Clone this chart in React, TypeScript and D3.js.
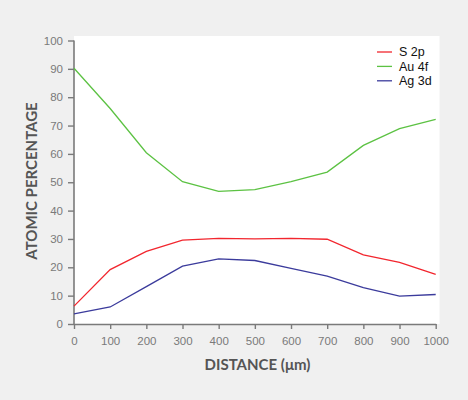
import React, { useEffect, useRef } from 'react';
import * as d3 from 'd3';

const distances = [0, 100, 200, 300, 400, 500, 600, 700, 800, 900, 1000];
const s2p = [6.3, 19.2, 25.6, 29.6, 30.2, 30.0, 30.2, 29.9, 24.4, 21.7, 17.5];
const au4f = [90.2, 76.0, 60.4, 50.2, 46.8, 47.4, 50.2, 53.6, 63.0, 68.9, 72.2];
const ag3d = [3.6, 6.0, 13.2, 20.4, 23.0, 22.4, 19.6, 16.9, 12.8, 9.8, 10.4];
const seriesNames = ['S 2p', 'Au 4f', 'Ag 3d'];
const seriesColors = ['#f2262e', '#5cc243', '#3b3b9c'];
const yTicks = [0, 10, 20, 30, 40, 50, 60, 70, 80, 90, 100];

const W = 468;
const H = 400;

export default function App() {
  const ref = useRef<SVGSVGElement | null>(null);

  useEffect(() => {
    const svg = d3.select(ref.current);
    svg.selectAll('*').remove();

    const m = { t: 36, r: 29, b: 76, l: 74 };
    const x = d3.scaleLinear().domain([0, 1000]).range([m.l, 435.7]);
    const y = d3.scaleLinear().domain([0, 100]).range([324, 40.5]);

    svg.append('rect').attr('width', W).attr('height', H).attr('fill', '#f0f0f0');
    svg
      .append('rect')
      .attr('x', m.l)
      .attr('y', m.t)
      .attr('width', 439.5 - m.l)
      .attr('height', 324 - m.t)
      .attr('fill', '#fff');

    const axisColor = '#7a7a7a';
    const gy = svg
      .append('g')
      .attr('transform', `translate(${m.l},0)`)
      .call(d3.axisLeft(y).tickValues(yTicks).tickFormat(d3.format('d')).tickSize(6).tickPadding(5).tickSizeOuter(0));
    gy.select('.domain').attr('d', `M0,${y(100)}V${y(0)}`);

    const gx = svg
      .append('g')
      .attr('transform', `translate(0,${y(0)})`)
      .call(d3.axisBottom(x).tickValues(distances).tickFormat(d3.format('d')).tickSize(5).tickPadding(8).tickSizeOuter(0));

    [gx, gy].forEach((g) => {
      g.selectAll('.domain').attr('stroke', axisColor).attr('stroke-width', 1.6);
      g.selectAll('.tick line').attr('stroke', axisColor).attr('stroke-width', 1.4);
      g.selectAll('text')
        .attr('fill', '#7a7a7a')
        .attr('font-size', 11.5)
        .attr('font-family', 'Liberation Sans, Arial, sans-serif');
    });

    const all = [s2p, au4f, ag3d];
    const line = d3
      .line<number>()
      .x((_, i) => x(distances[i]))
      .y((d) => y(d));

    all.forEach((vals, k) => {
      svg
        .append('path')
        .datum(vals)
        .attr('d', line)
        .attr('fill', 'none')
        .attr('stroke', seriesColors[k])
        .attr('stroke-width', 1.3);
    });

    const lg = svg.append('g').attr('transform', 'translate(377,52)');
    seriesNames.forEach((name, k) => {
      const row = lg.append('g').attr('transform', `translate(0,${k * 14.4})`);
      row
        .append('line')
        .attr('x1', 0)
        .attr('x2', 15)
        .attr('stroke', seriesColors[k])
        .attr('stroke-width', 1.3);
      row
        .append('text')
        .attr('x', 22)
        .attr('dy', '0.35em')
        .attr('font-size', 12.5)
        .attr('font-family', 'Liberation Sans, Arial, sans-serif')
        .attr('fill', '#111')
        .text(name);
    });

    svg
      .append('text')
      .attr('transform', `translate(37,${181}) rotate(-90)`)
      .attr('text-anchor', 'middle')
      .attr('font-size', 15)
      .attr('font-weight', 'bold')
      .attr('font-family', 'Lato, sans-serif')
      .attr('fill', '#555')
      .text('ATOMIC PERCENTAGE');

    svg
      .append('text')
      .attr('x', 257.5)
      .attr('y', 370)
      .attr('text-anchor', 'middle')
      .attr('font-size', 15)
      .attr('font-weight', 'bold')
      .attr('font-family', 'Lato, sans-serif')
      .attr('fill', '#555')
      .text('DISTANCE (μm)');
  }, []);

  return (
    <svg
      ref={ref}
      width={W}
      height={H}
      style={{ position: 'absolute', left: 0, top: 0, display: 'block' }}
    />
  );
}
